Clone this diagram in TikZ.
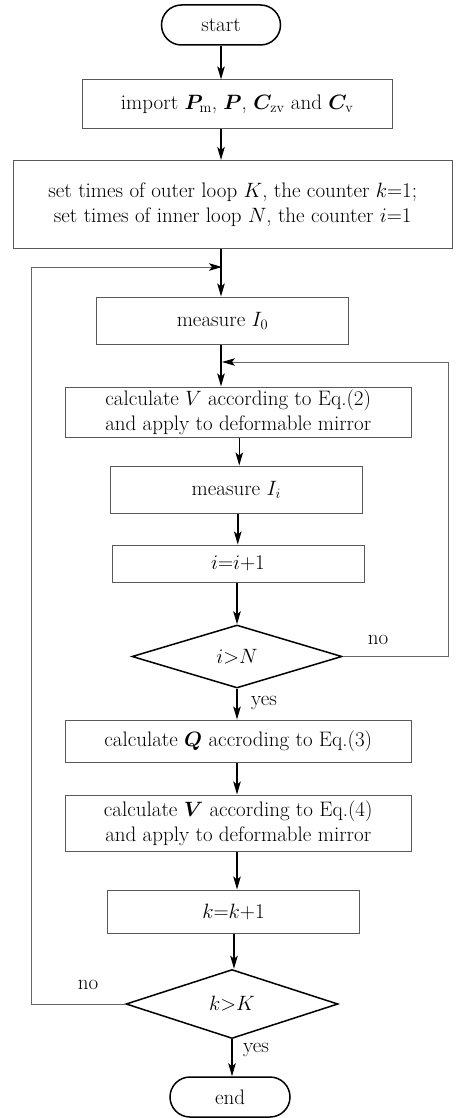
\documentclass[tikz,border=0pt]{standalone}
\usepackage{bm}
\usetikzlibrary{arrows.meta,shapes.geometric,shapes.misc}
\begin{document}
\begin{tikzpicture}[x=1pt,y=-1pt,
  every node/.style={font=\fontsize{21}{25}\selectfont},
  box/.style={draw=black!65,line width=1pt,rectangle,inner sep=0pt,align=center},
  term/.style={draw=black,line width=1.5pt,rounded rectangle,minimum width=119pt,minimum height=40pt,inner sep=0pt},
  dec/.style={draw=black,line width=1.5pt,diamond,aspect=3.2,inner sep=0pt},
  arr/.style={draw=black,line width=1.5pt,-{Stealth[length=13pt,width=7.5pt,inset=3pt]}},
  back/.style={draw=black!60,line width=1pt,-{Stealth[length=13pt,width=7.5pt,inset=3pt,color=black]}},
  lbl/.style={inner sep=0pt}
]
\useasboundingbox[fill=white] (0,0) rectangle (464,1118);
\node[term] (start) at (221,25) {start};
\node[box,minimum width=309.5pt,minimum height=49pt] (imp) at (237.25,104.5)
  {import $\bm{P}_{\mathrm{m}}$, $\bm{P}$, $\bm{C}_{\mathrm{zv}}$ and $\bm{C}_{\mathrm{v}}$};
\node[box,minimum width=438.5pt,minimum height=87.5pt] (set) at (232.75,204.25)
  {set times of outer loop $K$, the counter $k$=1;\\ set times of inner loop $N$, the counter $i$=1};
\node[box,minimum width=252pt,minimum height=47pt] (m0) at (222.5,320.5) {measure $I_0$};
\node[box,minimum width=346.5pt,minimum height=50pt] (c2) at (238.25,412)
  {calculate $V$ according to Eq.(2)\\ and apply to deformable mirror};
\node[box,minimum width=251.5pt,minimum height=47pt] (mi) at (236.25,489.5) {measure $I_i$};
\node[box,minimum width=252pt,minimum height=37pt] (inc) at (238,563.5) {$i$=$i$+1};
\node[dec,minimum width=210pt,minimum height=63pt] (d1) at (237,656.5) {$i{>}N$};
\node[box,minimum width=346.5pt,minimum height=42pt] (q) at (238.25,741)
  {calculate $\bm{Q}$ accroding to Eq.(3)};
\node[box,minimum width=346.5pt,minimum height=56pt] (c4) at (238.25,823)
  {calculate $\bm{V}$ according to Eq.(4)\\ and apply to deformable mirror};
\node[box,minimum width=252pt,minimum height=43pt] (kinc) at (233.5,911.5) {$k$=$k$+1};
\node[dec,minimum width=212pt,minimum height=69pt] (d2) at (232,1004) {$k{>}K$};
\node[term,minimum width=120pt] (end) at (230,1097) {end};

\coordinate (j1) at (222,362);
\coordinate (j2) at (222,267);

\draw[arr] (start.south) -- (start.south |- imp.north);
\draw[arr] (start.south |- imp.south) -- (start.south |- set.north);
\draw[arr] (start.south |- set.south) -- (start.south |- m0.north);
\draw[arr] (start.south |- m0.south) -- (start.south |- c2.north);
\draw[arr] ([xshift=3pt]mi.north |- c2.south) -- ([xshift=3pt]mi.north);
\draw[arr] ([xshift=1.5pt]mi.south) -- ([xshift=1.5pt]mi.south |- inc.north);
\draw[arr] (d1.north |- inc.south) -- (d1.north);
\draw[arr] (d1.south) -- (d1.south |- q.north);
\draw[arr] (d1.south |- q.south) -- (d1.south |- c4.north);
\draw[arr] (d1.south |- c4.south) -- (d1.south |- kinc.north);
\draw[arr] ([xshift=2pt]d2.north |- kinc.south) -- ([xshift=2pt]d2.north);
\draw[arr] (d2.south) -- (d2.south |- end.north);

\draw[back] (d1.east) -- ++(106,0) |- (j1);
\draw[back] (d2.west) -- ++(-94,0) |- (j2);

\node[lbl] (no1) at (378,640) {no};
\node[lbl] (yes1) at (264,703) {yes};
\node[lbl] (no2) at (88,985) {no};
\node[lbl] (yes2) at (256,1050) {yes};
\end{tikzpicture}
\end{document}
